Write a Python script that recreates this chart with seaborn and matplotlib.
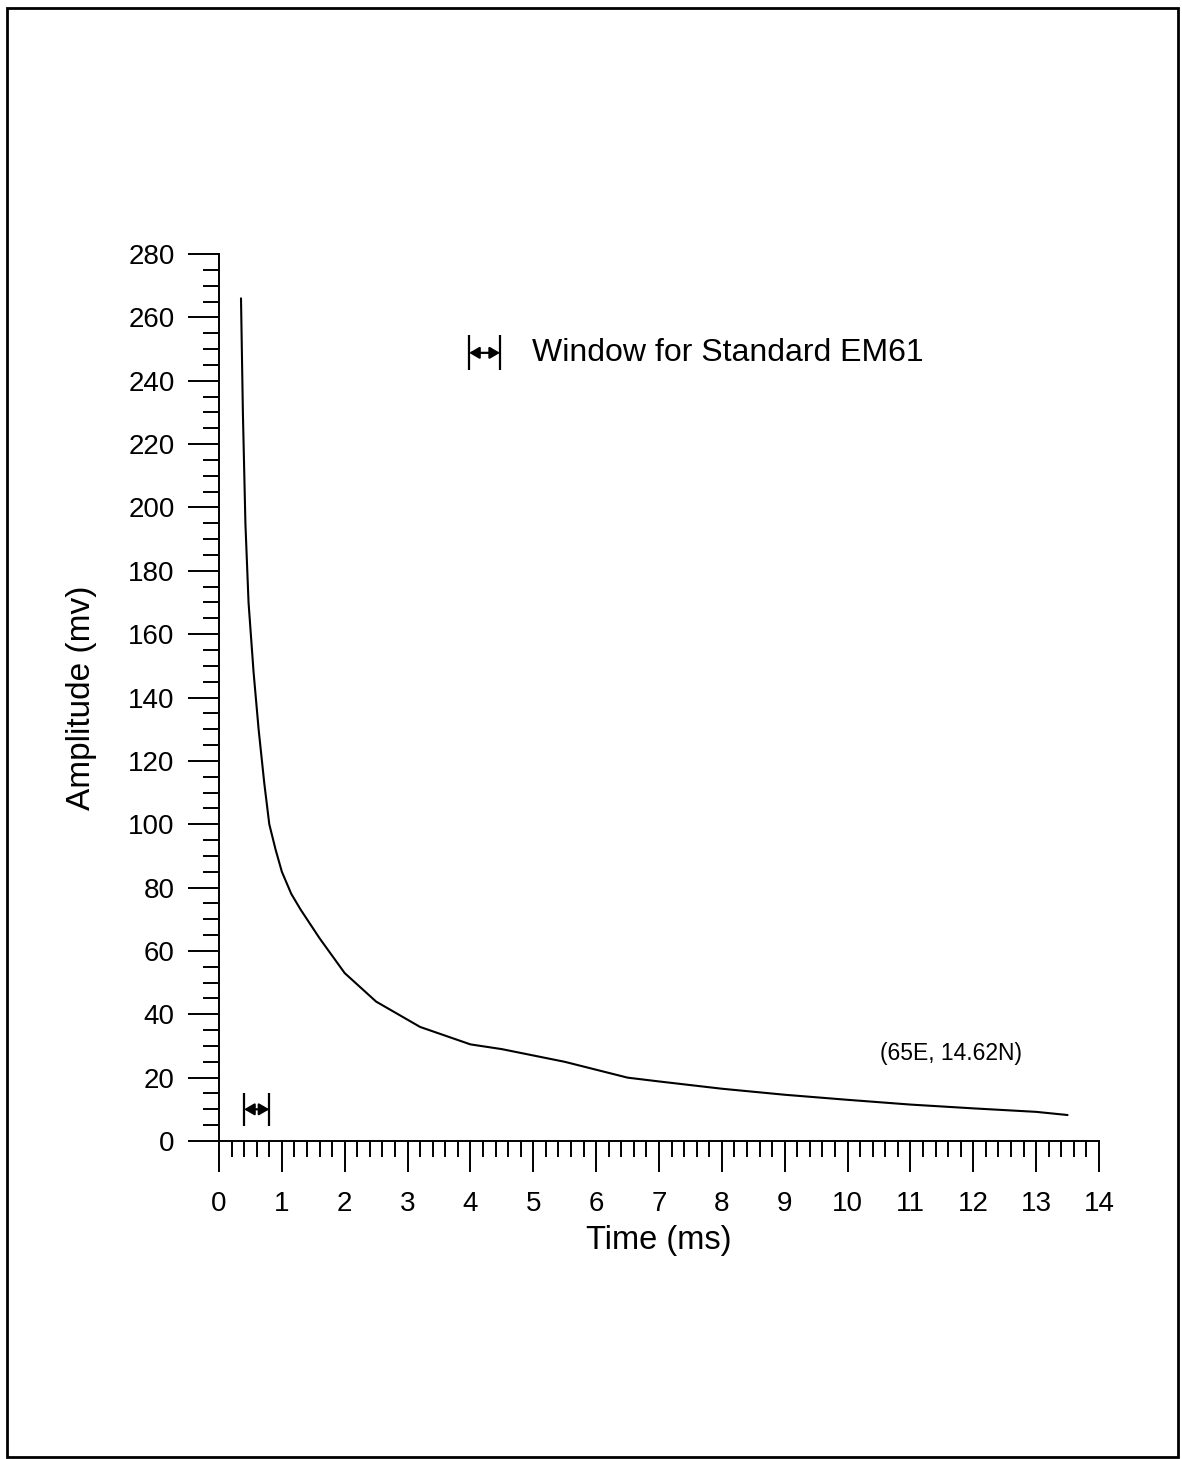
import matplotlib
matplotlib.use('Agg')
import matplotlib.pyplot as plt
import seaborn as sns
import pandas as pd
import numpy as np
from matplotlib.patches import Rectangle
from matplotlib.ticker import MultipleLocator

# decay curve
time_ms = [0.35, 0.38, 0.42, 0.47, 0.55, 0.63, 0.72, 0.8, 0.9, 1.0, 1.15, 1.3,
           1.6, 2.0, 2.5, 3.2, 4.0, 4.5, 5.0, 5.5, 6.0, 6.5, 7.0, 8.0, 9.0,
           10.0, 11.0, 12.0, 13.0, 13.5]
amplitude_mv = [266, 230, 195, 170, 148, 130, 113, 100, 92, 85, 78, 73,
                64, 53, 44, 36, 30.5, 29, 27, 25, 22.5, 20, 18.8, 16.5, 14.6,
                13, 11.5, 10.3, 9.2, 8.2]

window_start, window_end, window_level = 0.4, 0.8, 10
legend_label = 'Window for Standard EM61'
location_label = '(65E, 14.62N)'

df = pd.DataFrame({'time': time_ms, 'amp': amplitude_mv})

sns.set_style('ticks')
plt.rcParams['font.family'] = ['Liberation Sans', 'DejaVu Sans']

fig = plt.figure(figsize=(11.82, 14.59), dpi=100)
ax = fig.add_axes([219/1182, 318/1459, 880/1182, 887/1459])

sns.lineplot(data=df, x='time', y='amp', color='black', lw=1.5, ax=ax)

ax.set_xlim(0, 14)
ax.set_ylim(0, 280)
ax.xaxis.set_major_locator(MultipleLocator(1))
ax.xaxis.set_minor_locator(MultipleLocator(0.2))
ax.yaxis.set_major_locator(MultipleLocator(20))
ax.yaxis.set_minor_locator(MultipleLocator(5))
ax.tick_params(which='major', length=22, width=1.4, color='black',
               labelsize=20, labelcolor='black')
ax.tick_params(which='minor', length=11.5, width=1.4, color='black')
ax.tick_params(axis='x', which='major', pad=14)
ax.tick_params(axis='y', which='major', pad=10)
sns.despine(ax=ax)
for s in ['left', 'bottom']:
    ax.spines[s].set_linewidth(1.4)
    ax.spines[s].set_color('black')

ax.set_xlabel('Time (ms)', fontsize=23.5, labelpad=6, color='black')
ax.set_ylabel('Amplitude (mv)', fontsize=24, labelpad=22, color='black')

# window bracket on the plot
def bracket(x0, x1, y, h):
    ax.vlines([x0, x1], y - h, y + h, color='black', lw=1.6)
    ax.annotate('', xy=(x0, y), xytext=(x1, y),
                arrowprops=dict(arrowstyle='<|-|>,head_length=0.6,head_width=0.35',
                                color='black', lw=1.6, shrinkA=0, shrinkB=0))

bracket(window_start, window_end, window_level, 5.3)
bracket(3.98, 4.47, 248.8, 5.5)
ax.text(4.98, 248.8, legend_label, fontsize=23, va='center', ha='left',
        color='black')
ax.text(10.52, 27.5, location_label, fontsize=16.5, va='center', ha='left',
        color='black')

fig.patches.append(Rectangle((7/1182, 2/1459), 1171/1182, 1449/1459,
                             transform=fig.transFigure, fill=False,
                             lw=2, edgecolor='black'))

fig.savefig('out.png', dpi=100)
